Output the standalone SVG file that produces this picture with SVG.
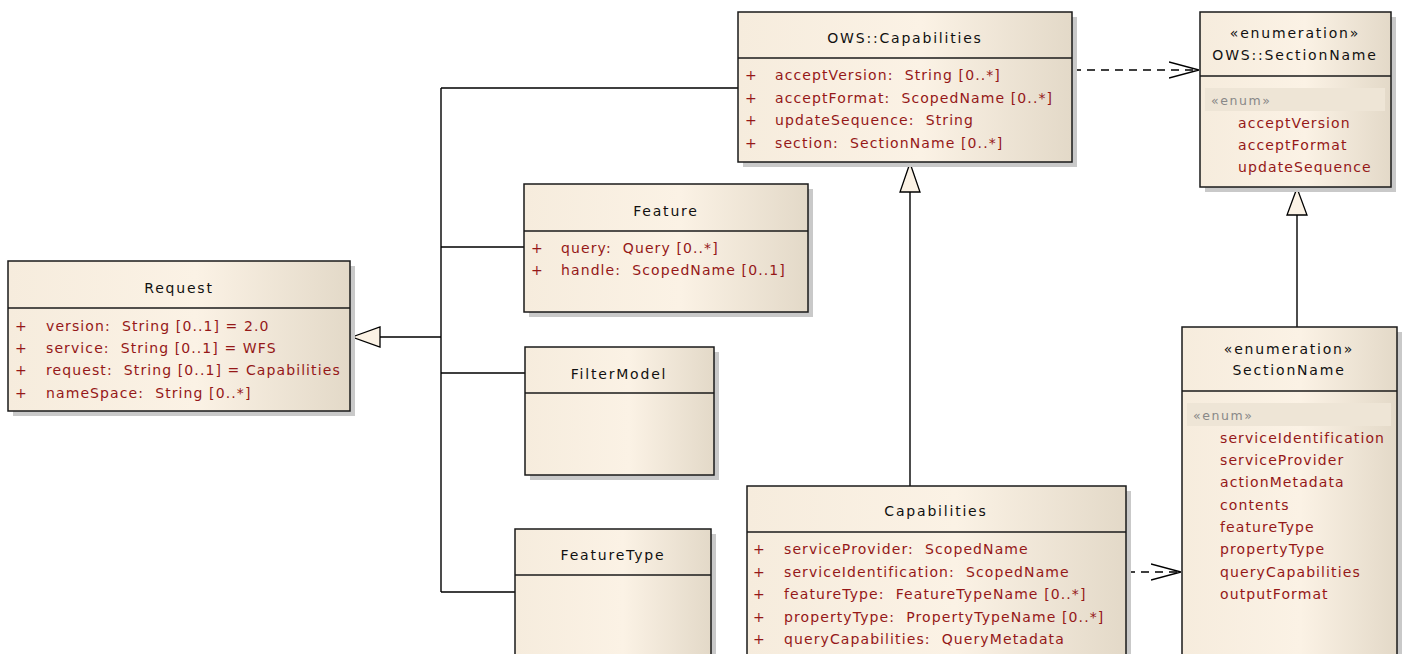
<svg xmlns="http://www.w3.org/2000/svg" width="1402" height="654" viewBox="0 0 1402 654">
  <defs>
    <linearGradient id="cls" x1="0" y1="0" x2="1" y2="0">
      <stop offset="0" stop-color="#F6ECDD"/>
      <stop offset="0.55" stop-color="#FBF2E5"/>
      <stop offset="1" stop-color="#E3D9C8"/>
    </linearGradient>
    <marker id="open" viewBox="0 0 30 20" refX="30" refY="10" markerWidth="30" markerHeight="20" markerUnits="userSpaceOnUse" orient="auto">
      <path d="M0,2 L30,10 L0,18" fill="none" stroke="#000" stroke-width="1.3"/>
    </marker>
  </defs>
  <style>
    text { white-space: pre; }
    .box { fill: url(#cls); stroke: #1a1a1a; stroke-width: 1.5; }
    .shadow { fill: #c9c9c9; }
    .div { stroke: #1a1a1a; stroke-width: 1.5; }
    .title { font-family: "DejaVu Sans", sans-serif; font-size: 14px; fill: #111; text-anchor: middle; letter-spacing: 1.8px; }
    .attr { font-family: "DejaVu Sans", sans-serif; font-size: 14px; fill: #951818; letter-spacing: 1.1px; }
    .stereo { font-family: "DejaVu Sans", sans-serif; font-size: 12.5px; fill: #888; letter-spacing: 1.6px; }
    .band { fill: #EEE5D6; }
    .line { fill: none; stroke: #000; stroke-width: 1.4; }
    .dash { fill: none; stroke: #000; stroke-width: 1.4; stroke-dasharray: 8 6; }
    .tri { fill: #FBF2E5; stroke: #000; stroke-width: 1.3; }
  </style>

  <rect width="1402" height="654" fill="#fff"/>

  <!-- connectors -->
  <g id="connectors">
    <!-- generalisation tree into Request -->
    <path class="line" d="M380,337 H441 M441,88 V592 M441,88 H738 M441,247 H524 M441,373 H525 M441,592 H515"/>
    <polygon class="tri" points="352,337 380,327 380,347"/>
    <!-- Capabilities specialises OWS::Capabilities -->
    <path class="line" d="M910,486 V192"/>
    <polygon class="tri" points="910,163 900,192 920,192"/>
    <!-- SectionName specialises OWS::SectionName -->
    <path class="line" d="M1297,327 V215"/>
    <polygon class="tri" points="1297,188 1287,215 1307,215"/>
    <!-- dependencies -->
    <path class="dash" d="M1073,70 H1199" marker-end="url(#open)"/>
    <path class="dash" d="M1127,572 H1181" marker-end="url(#open)"/>
  </g>

  <!-- Request -->
  <g id="request">
    <rect class="shadow" x="13" y="266" width="342" height="150"/>
    <rect class="box" x="8" y="261" width="342" height="150"/>
    <line class="div" x1="8" y1="308" x2="350" y2="308"/>
    <text class="title" x="179" y="293">Request</text>
    <text class="attr" x="15" y="331">+</text><text class="attr" x="46" y="331">version:  String [0..1] = 2.0</text>
    <text class="attr" x="15" y="353">+</text><text class="attr" x="46" y="353">service:  String [0..1] = WFS</text>
    <text class="attr" x="15" y="375">+</text><text class="attr" x="46" y="375">request:  String [0..1] = Capabilities</text>
    <text class="attr" x="15" y="398">+</text><text class="attr" x="46" y="398">nameSpace:  String [0..*]</text>
  </g>

  <!-- OWS::Capabilities -->
  <g id="ows-capabilities">
    <rect class="shadow" x="743" y="17" width="334" height="150"/>
    <rect class="box" x="738" y="12" width="334" height="150"/>
    <line class="div" x1="738" y1="58" x2="1072" y2="58"/>
    <text class="title" x="905" y="43">OWS::Capabilities</text>
    <text class="attr" x="745" y="80">+</text><text class="attr" x="775" y="80">acceptVersion:  String [0..*]</text>
    <text class="attr" x="745" y="103">+</text><text class="attr" x="775" y="103">acceptFormat:  ScopedName [0..*]</text>
    <text class="attr" x="745" y="125">+</text><text class="attr" x="775" y="125">updateSequence:  String</text>
    <text class="attr" x="745" y="148">+</text><text class="attr" x="775" y="148">section:  SectionName [0..*]</text>
  </g>

  <!-- OWS::SectionName -->
  <g id="ows-sectionname">
    <rect class="shadow" x="1205" y="17" width="191" height="175"/>
    <rect class="box" x="1200" y="12" width="191" height="175"/>
    <line class="div" x1="1200" y1="76" x2="1391" y2="76"/>
    <text class="title" x="1295" y="38">«enumeration»</text>
    <text class="title" x="1295" y="60">OWS::SectionName</text>
    <rect class="band" x="1205" y="88" width="180" height="23"/>
    <text class="stereo" x="1211" y="105">«enum»</text>
    <text class="attr" x="1238" y="128">acceptVersion</text>
    <text class="attr" x="1238" y="150">acceptFormat</text>
    <text class="attr" x="1238" y="172">updateSequence</text>
  </g>

  <!-- Feature -->
  <g id="feature">
    <rect class="shadow" x="529" y="189" width="284" height="128"/>
    <rect class="box" x="524" y="184" width="284" height="128"/>
    <line class="div" x1="524" y1="231" x2="808" y2="231"/>
    <text class="title" x="666" y="216">Feature</text>
    <text class="attr" x="531" y="253">+</text><text class="attr" x="561" y="253">query:  Query [0..*]</text>
    <text class="attr" x="531" y="275">+</text><text class="attr" x="561" y="275">handle:  ScopedName [0..1]</text>
  </g>

  <!-- FilterModel -->
  <g id="filtermodel">
    <rect class="shadow" x="530" y="352" width="189" height="128"/>
    <rect class="box" x="525" y="347" width="189" height="128"/>
    <line class="div" x1="525" y1="393" x2="714" y2="393"/>
    <text class="title" x="619" y="379">FilterModel</text>
  </g>

  <!-- FeatureType -->
  <g id="featuretype">
    <rect class="shadow" x="520" y="534" width="196" height="130"/>
    <rect class="box" x="515" y="529" width="196" height="140"/>
    <line class="div" x1="515" y1="575" x2="711" y2="575"/>
    <text class="title" x="613" y="560">FeatureType</text>
  </g>

  <!-- Capabilities -->
  <g id="capabilities">
    <rect class="shadow" x="752" y="491" width="379" height="170"/>
    <rect class="box" x="747" y="486" width="379" height="180"/>
    <line class="div" x1="747" y1="532" x2="1126" y2="532"/>
    <text class="title" x="936" y="516">Capabilities</text>
    <text class="attr" x="753" y="554">+</text><text class="attr" x="784" y="554">serviceProvider:  ScopedName</text>
    <text class="attr" x="753" y="577">+</text><text class="attr" x="784" y="577">serviceIdentification:  ScopedName</text>
    <text class="attr" x="753" y="599">+</text><text class="attr" x="784" y="599">featureType:  FeatureTypeName [0..*]</text>
    <text class="attr" x="753" y="622">+</text><text class="attr" x="784" y="622">propertyType:  PropertyTypeName [0..*]</text>
    <text class="attr" x="753" y="644">+</text><text class="attr" x="784" y="644">queryCapabilities:  QueryMetadata</text>
  </g>

  <!-- SectionName -->
  <g id="sectionname">
    <rect class="shadow" x="1187" y="332" width="215" height="330"/>
    <rect class="box" x="1182" y="327" width="215" height="340"/>
    <line class="div" x1="1182" y1="391" x2="1397" y2="391"/>
    <text class="title" x="1289" y="354">«enumeration»</text>
    <text class="title" x="1289" y="375">SectionName</text>
    <rect class="band" x="1187" y="403" width="204" height="23"/>
    <text class="stereo" x="1193" y="420">«enum»</text>
    <text class="attr" x="1220" y="443">serviceIdentification</text>
    <text class="attr" x="1220" y="465">serviceProvider</text>
    <text class="attr" x="1220" y="487">actionMetadata</text>
    <text class="attr" x="1220" y="510">contents</text>
    <text class="attr" x="1220" y="532">featureType</text>
    <text class="attr" x="1220" y="554">propertyType</text>
    <text class="attr" x="1220" y="577">queryCapabilities</text>
    <text class="attr" x="1220" y="599">outputFormat</text>
  </g>
</svg>
